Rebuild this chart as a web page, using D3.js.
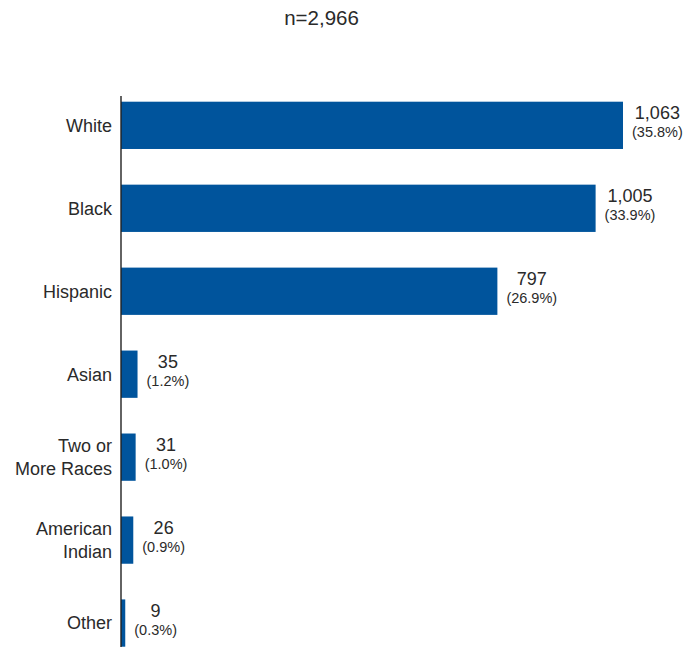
<!DOCTYPE html>
<html>
<head>
<meta charset="utf-8">
<script src="https://cdn.jsdelivr.net/npm/d3@7"></script>
<style>
  html, body { margin: 0; padding: 0; background: #fff; }
  svg { display: block; font-family: "Liberation Sans", Arial, sans-serif; }
</style>
</head>
<body>
<svg id="chart" width="687" height="647"></svg>
<script>
const title = "n=2,966";
const categories = [["White"], ["Black"], ["Hispanic"], ["Asian"], ["Two or", "More Races"], ["American", "Indian"], ["Other"]];
const counts = [1063, 1005, 797, 35, 31, 26, 9];
const percents = ["35.8%", "33.9%", "26.9%", "1.2%", "1.0%", "0.9%", "0.3%"];

const svg = d3.select("#chart");
const W = 687, H = 647;
const axisX = 121;
const rows = categories.map((c, i) => ({ key: c.join(" "), lines: c, count: counts[i], pct: percents[i] }));

const x = d3.scaleLinear().domain([0, 1063]).range([axisX, 623]);
const y = d3.scaleBand().domain(rows.map(d => d.key)).range([101.7, 646.7]).paddingInner(0.43).paddingOuter(0);

const textColor = "#2a2a2a";
const barColor = "#00549c";

// title
svg.append("text")
  .attr("x", 321.5).attr("y", 25)
  .attr("text-anchor", "middle")
  .attr("font-size", 20.5)
  .attr("fill", textColor)
  .text(title);

// bars
svg.append("g").selectAll("rect").data(rows).join("rect")
  .attr("x", x(0))
  .attr("y", d => y(d.key))
  .attr("width", d => x(d.count) - x(0))
  .attr("height", y.bandwidth())
  .attr("fill", barColor);

// axis line
svg.append("line")
  .attr("x1", axisX).attr("x2", axisX)
  .attr("y1", 96).attr("y2", H)
  .attr("stroke", "#222").attr("stroke-width", 1.4);

// category labels
const lh = 23;
svg.append("g").selectAll("text").data(rows).join("text")
  .attr("text-anchor", "end")
  .attr("font-size", 18)
  .attr("fill", textColor)
  .each(function(d) {
    const cy = y(d.key) + y.bandwidth() / 2;
    const first = cy + 6.3 - (d.lines.length - 1) * lh / 2;
    d3.select(this).selectAll("tspan").data(d.lines).join("tspan")
      .attr("x", axisX - 9)
      .attr("y", (l, i) => first + i * lh)
      .text(l => l);
  });

// value labels
const vg = svg.append("g").selectAll("g").data(rows).join("g")
  .attr("transform", d => `translate(${x(d.count) + 9},${y(d.key) + y.bandwidth() / 2})`);
vg.each(function(d) {
  const g = d3.select(this);
  const p = g.append("text")
    .attr("font-size", 14.5)
    .attr("fill", textColor)
    .attr("y", 12)
    .text(`(${d.pct})`);
  const w = p.node().getComputedTextLength();
  p.attr("x", w / 2).attr("text-anchor", "middle");
  g.append("text")
    .attr("font-size", 18)
    .attr("fill", textColor)
    .attr("x", w / 2)
    .attr("y", -6)
    .attr("text-anchor", "middle")
    .text(d3.format(",")(d.count));
});
</script>
</body>
</html>
